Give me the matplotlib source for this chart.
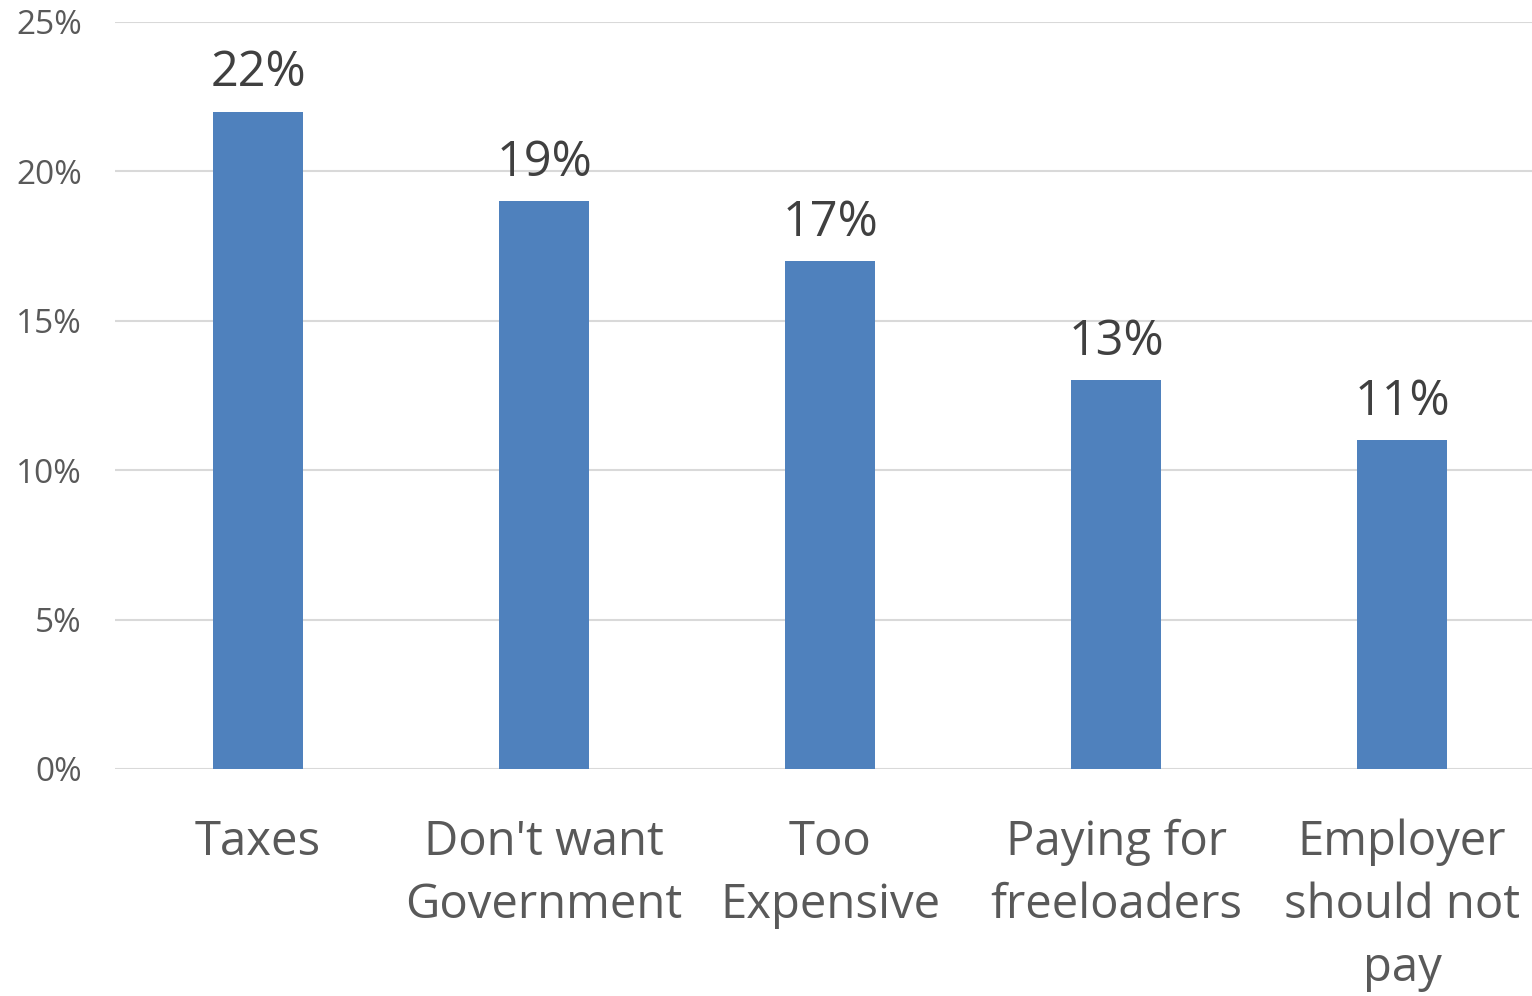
import matplotlib.pyplot as plt
import numpy as np

plt.rcParams['font.family'] = ['Open Sans', 'DejaVu Sans']

# Reasons given, share of respondents (%)
categories = ["Taxes", "Don't want\nGovernment", "Too\nExpensive",
              "Paying for\nfreeloaders", "Employer\nshould not\npay"]
values = [22, 19, 17, 13, 11]
yticks = [0, 5, 10, 15, 20, 25]

bar_color = '#4F81BD'
grid_color = '#D9D9D9'
text_color = '#595959'

fig = plt.figure(figsize=(15.32, 9.96), dpi=100)
ax = fig.add_axes([0.0751, 0.228, 0.9334, 0.75])

x = np.arange(len(categories))
ax.bar(x, values, width=0.315, color=bar_color, zorder=3)

# value labels above each bar
for xi, v in zip(x, values):
    ax.text(xi, v + 0.45, f"{v}%", ha='center', va='bottom',
            fontsize=35, color='#404040')

ax.set_xlim(-0.5, 4.5)
ax.set_ylim(0, 25)
ax.set_yticks(yticks)
ax.set_yticklabels([f"{t}%" for t in yticks], fontsize=24, color=text_color)
ax.set_xticks(x)
ax.set_xticklabels(categories, fontsize=34, color=text_color, linespacing=1.42)

ax.grid(axis='y', color=grid_color, linewidth=1.5, zorder=0)
for s in ax.spines.values():
    s.set_visible(False)
ax.tick_params(axis='both', length=0)
ax.tick_params(axis='x', pad=36)
ax.tick_params(axis='y', pad=24)

fig.savefig('out.png', dpi=100)
